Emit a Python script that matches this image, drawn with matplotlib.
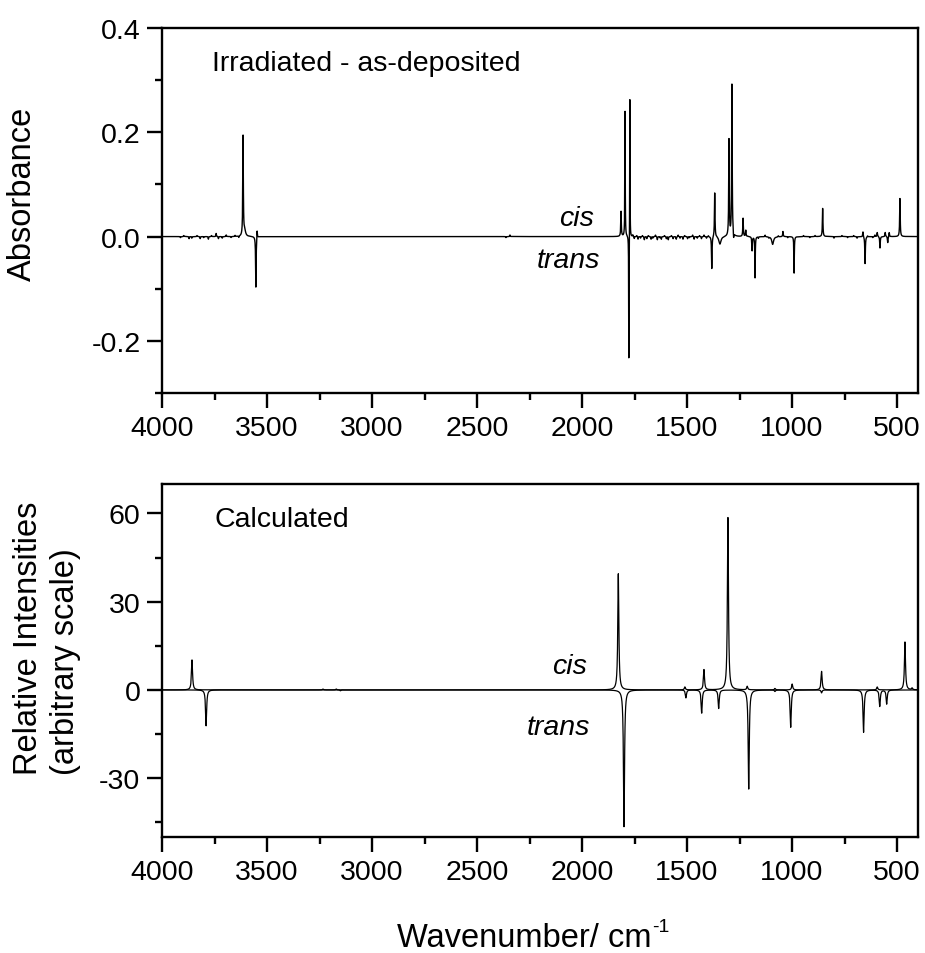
import numpy as np
import matplotlib
matplotlib.use("Agg")
import matplotlib.pyplot as plt
from matplotlib.ticker import MultipleLocator, FormatStrFormatter

plt.rcParams["font.family"] = ["Liberation Sans", "DejaVu Sans"]

# ---- observed difference spectrum (irradiated - as-deposited) ----
# band centre (cm-1), absorbance at band maximum, half width (cm-1)
obs_pos = [3614, 3606, 3553, 3547, 1814, 1795, 1772, 1777, 1382, 1368, 1343,
           1300, 1286, 1278, 1233, 1220, 1190, 1176, 1092, 1043, 990, 854,
           662, 652, 594, 581, 556, 544, 537, 486]
obs_amp = [0.192, 0.010, -0.098, 0.016, 0.048, 0.240, 0.268, -0.240, -0.062,
           0.085, -0.015, 0.185, 0.291, -0.012, 0.035, 0.012, -0.027, -0.079,
           -0.015, 0.010, -0.070, 0.054, 0.010, -0.052, 0.008, -0.022, 0.008,
           -0.012, 0.008, 0.073]
obs_hw = [1.5, 5, 1.5, 1.5, 1.5, 1.0, 0.8, 0.8, 1.5, 1.5, 6,
          1.5, 1.5, 1.5, 1.5, 1.5, 1.5, 1.2, 5, 1.5, 1.2, 1.5,
          1.5, 1.5, 1.5, 1.5, 1.5, 1.5, 1.5, 1.5]

# weak baseline features of the observed spectrum
weak_pos = [3912, 3896, 3871, 3858, 3833, 3818, 3801, 3779, 3764, 3742, 3731,
            3713, 3694, 3671, 3652, 3634, 2362, 2343,
            1758, 1751, 1739, 1733, 1721, 1712, 1703, 1691, 1684, 1671, 1663,
            1650, 1641, 1629, 1622, 1607, 1598, 1589, 1574, 1566, 1551, 1542,
            1533, 1519, 1511, 1497, 1488, 1473, 1466, 1451, 1440, 1431, 1419,
            1407, 1398, 1160, 1128, 1110, 1065, 1020, 945, 915, 890, 800, 762,
            735, 706, 690, 640, 615, 605]
weak_amp = [-0.002, 0.002, -0.004, -0.003, 0.002, -0.004, -0.002, -0.005,
            0.002, 0.006, -0.004, -0.003, 0.003, -0.002, 0.002, -0.003,
            -0.002, 0.003,
            0.003, -0.004, 0.002, -0.005, -0.003, 0.002, -0.006, -0.004,
            0.002, -0.005, -0.003, 0.003, -0.006, -0.002, -0.005, 0.002,
            -0.004, -0.006, 0.002, -0.004, -0.005, 0.003, -0.003, -0.005,
            0.002, -0.004, -0.002, 0.003, -0.005, -0.003, 0.002, -0.004,
            0.003, -0.003, 0.002, -0.003, 0.003, -0.002, 0.002, -0.002,
            0.002, -0.002, 0.002, -0.003, 0.002, -0.002, 0.002, -0.003,
            0.002, -0.002, 0.003]

# ---- calculated band positions (cm-1) and relative intensities ----
cis_pos = [3857, 3233, 3170, 1827, 1510, 1419, 1305, 1213, 1081, 999, 859,
           594, 462, 428]
cis_int = [10.2, 0.3, 0.3, 39.5, 1.0, 6.9, 58.6, 1.2, 0.5, 2.0, 6.3, 1.0,
           16.3, 0.6]
trans_pos = [3790, 3150, 1800, 1505, 1430, 1349, 1206, 1081, 1006, 859, 659,
             582, 549]
trans_int = [-12.2, -0.3, -46.5, -2.7, -7.9, -6.3, -33.7, -0.5, -12.7, -1.0,
             -14.4, -5.6, -4.8]
calc_hw = 3.0

x_major = [4000, 3500, 3000, 2500, 2000, 1500, 1000, 500]


def lorentz_sum(x, centres, heights, widths):
    y = np.zeros_like(x)
    for c, h, w in zip(centres, heights, widths):
        y += h * w ** 2 / ((x - c) ** 2 + w ** 2)
    return y


wn = np.arange(400.0, 4000.0, 0.1)
obs = lorentz_sum(wn, obs_pos, obs_amp, obs_hw)
obs += lorentz_sum(wn, weak_pos, weak_amp, [1.2] * len(weak_pos))
cis = lorentz_sum(wn, cis_pos, cis_int, [calc_hw] * len(cis_pos))
trans = lorentz_sum(wn, trans_pos, trans_int, [calc_hw] * len(trans_pos))

W, H = 925, 954
fig = plt.figure(figsize=(W / 100, H / 100), dpi=100)


def px(x, y):
    return x / W, 1 - y / H


spine_w = 1.7
tick_fs = 20.5
label_fs = 23.5

ax1 = fig.add_axes([162 / W, 1 - 394 / H, 756 / W, 365 / H])
ax2 = fig.add_axes([162 / W, 1 - 838 / H, 756 / W, 353 / H])

for ax in (ax1, ax2):
    for s in ax.spines.values():
        s.set_linewidth(spine_w)
    ax.tick_params(which="both", direction="out", width=spine_w,
                   top=False, right=False, labelsize=tick_fs, pad=5)
    ax.tick_params(which="major", length=10.5)
    ax.tick_params(which="minor", length=5)
    ax.set_xlim(4000, 400)
    ax.set_xticks(x_major)
    ax.xaxis.set_minor_locator(MultipleLocator(250))
    ax.xaxis.set_major_formatter(FormatStrFormatter("%d"))

ax1.plot(wn, obs, color="black", lw=1.0)
ax1.set_ylim(-0.3, 0.4)
ax1.yaxis.set_major_locator(MultipleLocator(0.2))
ax1.yaxis.set_minor_locator(MultipleLocator(0.1))
ax1.yaxis.set_major_formatter(FormatStrFormatter("%.1f"))

ax2.plot(wn, cis, color="black", lw=0.9)
ax2.plot(wn, trans, color="black", lw=0.9)
ax2.set_ylim(-50, 70)
ax2.yaxis.set_major_locator(MultipleLocator(30))
ax2.yaxis.set_minor_locator(MultipleLocator(15))
ax2.yaxis.set_major_formatter(FormatStrFormatter("%d"))

fig.text(*px(212, 71), "Irradiated - as-deposited", fontsize=tick_fs,
         ha="left", va="baseline")
fig.text(*px(559, 226), "cis", fontsize=tick_fs, style="italic",
         ha="left", va="baseline")
fig.text(*px(537, 268), "trans", fontsize=tick_fs, style="italic",
         ha="left", va="baseline")
fig.text(*px(215, 527), "Calculated", fontsize=tick_fs,
         ha="left", va="baseline")
fig.text(*px(552, 674), "cis", fontsize=tick_fs, style="italic",
         ha="left", va="baseline")
fig.text(*px(527, 735), "trans", fontsize=tick_fs, style="italic",
         ha="left", va="baseline")

fig.text(*px(22, 194), "Absorbance", fontsize=label_fs, rotation=90,
         ha="center", va="center")
fig.text(*px(47, 638), "Relative Intensities\n(arbitrary scale)",
         fontsize=label_fs, rotation=90, ha="center", va="center",
         multialignment="left", linespacing=1.25)
fig.text(*px(397, 947), "Wavenumber/ cm", fontsize=label_fs,
         ha="left", va="baseline")
fig.text(*px(652, 932), "-1", fontsize=14, ha="left", va="baseline")

fig.savefig("out.png", dpi=100)
